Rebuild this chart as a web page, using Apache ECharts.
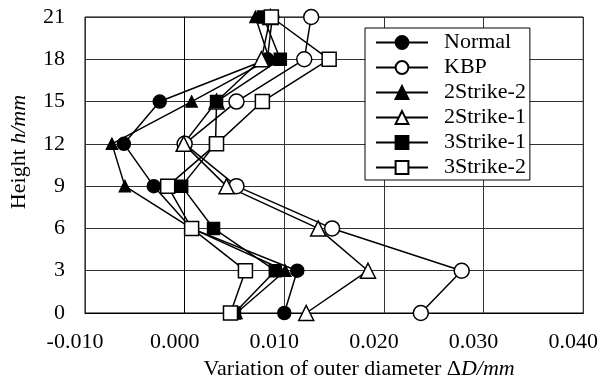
<!DOCTYPE html>
<html>
<head>
<meta charset="utf-8">
<script src="https://cdn.jsdelivr.net/npm/echarts@6/dist/echarts.min.js"></script>
<style>
  html, body { margin: 0; padding: 0; background: #fff; }
  #chart { width: 601px; height: 385px; }
</style>
</head>
<body>
<div id="chart"></div>
<script>
// heights along the specimen (mm)
const heights = [0, 3, 6, 9, 12, 15, 18, 21];

// variation of outer diameter at each height (mm)
const normal    = [0.0100, 0.0113, 0.0007, -0.0031, -0.0061, -0.0025, 0.0083, 0.0088];
const kbp       = [0.0237, 0.0278, 0.0148, 0.0052, 0.0000, 0.0052, 0.0120, 0.0127];
const strike2_2 = [0.0052, 0.0101, 0.0007, -0.0060, -0.0073, 0.0007, 0.0085, 0.0071];
const strike2_1 = [0.0122, 0.0184, 0.0134, 0.0042, -0.0001, 0.0032, 0.0077, 0.0086];
const strike3_1 = [0.0050, 0.0091, 0.0029, -0.0003, 0.0031, 0.0032, 0.0096, 0.0079];
const strike3_2 = [0.0046, 0.0061, 0.0007, -0.0017, 0.0032, 0.0078, 0.0145, 0.0087];

const xTicks = { min: -0.01, max: 0.04, step: 0.01 };
const yTicks = { min: 0, max: 21, step: 3 };

const font = 'Liberation Serif';

function makeSeries(name, values, symbol, size, filled) {
  return {
    name: name,
    type: 'line',
    data: values.map((v, i) => [v, heights[i]]),
    symbol: symbol,
    symbolSize: size,
    showAllSymbol: true,
    lineStyle: { color: '#000', width: 1.5 },
    itemStyle: {
      color: filled ? '#000' : '#fff',
      borderColor: '#000',
      borderWidth: 1.5
    },
    emphasis: { disabled: true },
    animation: false
  };
}

const chart = echarts.init(document.getElementById('chart'));
chart.setOption({
  backgroundColor: '#fff',
  textStyle: { fontFamily: font },
  grid: {
    left: 84, right: 15, top: 17, bottom: 71,
    show: true, borderColor: '#000', borderWidth: 1
  },
  legend: {
    orient: 'vertical',
    left: 365, top: 28,
    padding: [2, 4, 0, 10],
    itemGap: 0,
    itemWidth: 52,
    itemHeight: 16,
    backgroundColor: '#fff',
    borderColor: '#000',
    borderWidth: 1,
    borderRadius: 0,
    textStyle: { fontFamily: font, fontSize: 22, color: '#000', lineHeight: 25, padding: [0, 0, 0, 11] }
  },
  xAxis: {
    type: 'value',
    min: xTicks.min, max: xTicks.max, interval: xTicks.step,
    name: '{n|Variation of outer diameter Δ}{i|D/mm}',
    nameLocation: 'middle',
    nameGap: 45,
    nameTextStyle: {
      padding: [0, 0, 0, 50],
      rich: {
        n: { fontFamily: font, fontSize: 22, color: '#000' },
        i: { fontFamily: font, fontSize: 22, color: '#000', fontStyle: 'italic' }
      }
    },
    axisLine: { show: true, lineStyle: { color: '#000' } },
    axisTick: { show: false },
    axisLabel: {
      margin: 18,
      fontSize: 22, color: '#000', fontFamily: font,
      padding: [0, 20, 0, 0],
      formatter: v => v.toFixed(3)
    },
    splitLine: { show: true, lineStyle: { color: '#333', width: 1 } }
  },
  yAxis: {
    type: 'value',
    min: yTicks.min, max: yTicks.max, interval: yTicks.step,
    name: '{n|Height }{i|h/mm}',
    nameLocation: 'middle',
    nameGap: 55,
    nameTextStyle: {
      padding: [0, 0, 0, 26],
      rich: {
        n: { fontFamily: font, fontSize: 22, color: '#000' },
        i: { fontFamily: font, fontSize: 22, color: '#000', fontStyle: 'italic' }
      }
    },
    axisLine: { show: true, lineStyle: { color: '#000' } },
    axisTick: { show: false },
    axisLabel: { margin: 20, fontSize: 22, color: '#000', fontFamily: font },
    splitLine: { show: true, lineStyle: { color: '#333', width: 1 } }
  },
  series: [
    makeSeries('Normal', normal, 'circle', 13, true),
    makeSeries('KBP', kbp, 'circle', 15, false),
    makeSeries('2Strike-2', strike2_2, 'triangle', 11, true),
    makeSeries('2Strike-1', strike2_1, 'triangle', 15, false),
    makeSeries('3Strike-1', strike3_1, 'rect', 12, true),
    makeSeries('3Strike-2', strike3_2, 'rect', 14, false)
  ]
});
</script>
</body>
</html>
